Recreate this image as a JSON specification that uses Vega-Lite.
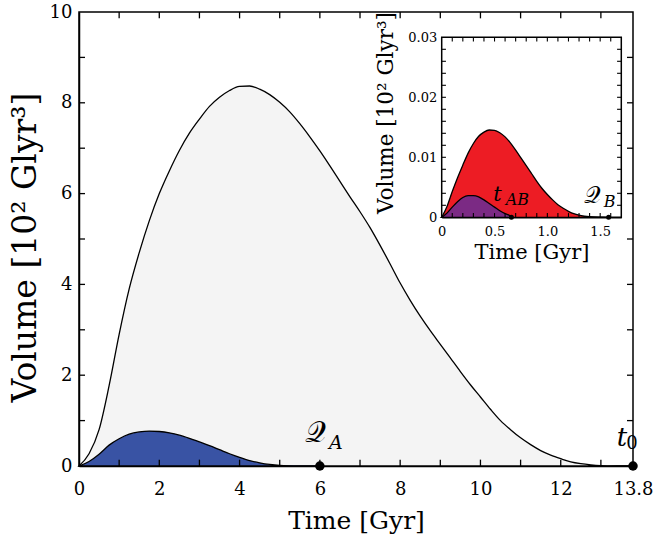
{
  "$schema": "https://vega.github.io/schema/vega-lite/v6.json",
  "width": 554,
  "height": 454,
  "autosize": {"type": "none"},
  "padding": {"left": 79, "top": 12, "right": 22, "bottom": 72},
  "background": "white",
  "config": {
    "font": "DejaVu Serif",
    "view": {"stroke": "black", "strokeWidth": 1.5},
    "axis": {"grid": false, "zindex": 2, "domainColor": "black", "domainWidth": 1.5, "tickSize": 0, "labelColor": "black", "titleColor": "black", "labelFont": "DejaVu Serif", "titleFont": "DejaVu Serif", "titleFontWeight": "normal"}
  },
  "resolve": {"scale": {"x": "independent", "y": "independent"}, "axis": {"x": "independent", "y": "independent"}},
  "datasets": {
    "grey": [
      {"t": 0, "v": 0}, {"t": 0.25, "v": 0.27}, {"t": 0.5, "v": 0.8}, {"t": 0.75, "v": 1.77}, {"t": 1.0, "v": 2.9},
      {"t": 1.25, "v": 3.9}, {"t": 1.5, "v": 4.7}, {"t": 1.75, "v": 5.4}, {"t": 2.0, "v": 6.0}, {"t": 2.25, "v": 6.5},
      {"t": 2.5, "v": 6.95}, {"t": 2.75, "v": 7.33}, {"t": 3.0, "v": 7.64}, {"t": 3.25, "v": 7.92}, {"t": 3.5, "v": 8.12},
      {"t": 3.75, "v": 8.27}, {"t": 4.0, "v": 8.36}, {"t": 4.25, "v": 8.37}, {"t": 4.5, "v": 8.3}, {"t": 4.75, "v": 8.18},
      {"t": 5.0, "v": 8.01}, {"t": 5.25, "v": 7.8}, {"t": 5.5, "v": 7.54}, {"t": 5.75, "v": 7.25}, {"t": 6.0, "v": 6.94},
      {"t": 6.25, "v": 6.61}, {"t": 6.5, "v": 6.27}, {"t": 6.75, "v": 5.93}, {"t": 7.0, "v": 5.6}, {"t": 7.25, "v": 5.25},
      {"t": 7.5, "v": 4.86}, {"t": 7.75, "v": 4.45}, {"t": 8.0, "v": 4.03}, {"t": 8.25, "v": 3.65}, {"t": 8.5, "v": 3.3},
      {"t": 8.75, "v": 2.98}, {"t": 9.0, "v": 2.68}, {"t": 9.25, "v": 2.38}, {"t": 9.5, "v": 2.08}, {"t": 9.75, "v": 1.79},
      {"t": 10.0, "v": 1.52}, {"t": 10.25, "v": 1.25}, {"t": 10.5, "v": 1.0}, {"t": 10.75, "v": 0.8}, {"t": 11.0, "v": 0.62},
      {"t": 11.25, "v": 0.47}, {"t": 11.5, "v": 0.34}, {"t": 11.75, "v": 0.24}, {"t": 12.0, "v": 0.16}, {"t": 12.25, "v": 0.09},
      {"t": 12.5, "v": 0.05}, {"t": 12.75, "v": 0.025}, {"t": 13.0, "v": 0.01}, {"t": 13.4, "v": 0.002}, {"t": 13.8, "v": 0}
    ],
    "blue": [
      {"t": 0, "v": 0}, {"t": 0.25, "v": 0.1}, {"t": 0.5, "v": 0.26}, {"t": 0.75, "v": 0.46}, {"t": 1.0, "v": 0.6},
      {"t": 1.25, "v": 0.7}, {"t": 1.5, "v": 0.75}, {"t": 1.75, "v": 0.77}, {"t": 2.0, "v": 0.76}, {"t": 2.25, "v": 0.73},
      {"t": 2.5, "v": 0.68}, {"t": 2.75, "v": 0.61}, {"t": 3.0, "v": 0.53}, {"t": 3.25, "v": 0.45}, {"t": 3.5, "v": 0.36},
      {"t": 3.75, "v": 0.27}, {"t": 4.0, "v": 0.19}, {"t": 4.25, "v": 0.12}, {"t": 4.5, "v": 0.07}, {"t": 4.75, "v": 0.035},
      {"t": 5.0, "v": 0.015}, {"t": 5.5, "v": 0.003}, {"t": 6.0, "v": 0}
    ],
    "red": [
      {"t": 0, "v": 0}, {"t": 0.05, "v": 0.0018}, {"t": 0.1, "v": 0.0043}, {"t": 0.15, "v": 0.0066}, {"t": 0.2, "v": 0.0087},
      {"t": 0.25, "v": 0.0107}, {"t": 0.3, "v": 0.0123}, {"t": 0.35, "v": 0.0135}, {"t": 0.4, "v": 0.0142}, {"t": 0.45, "v": 0.01455},
      {"t": 0.5, "v": 0.0145}, {"t": 0.55, "v": 0.0141}, {"t": 0.6, "v": 0.0134}, {"t": 0.65, "v": 0.0124}, {"t": 0.7, "v": 0.0112},
      {"t": 0.75, "v": 0.0099}, {"t": 0.8, "v": 0.0086}, {"t": 0.85, "v": 0.0073}, {"t": 0.9, "v": 0.006}, {"t": 0.95, "v": 0.0048},
      {"t": 1.0, "v": 0.0038}, {"t": 1.05, "v": 0.0029}, {"t": 1.1, "v": 0.0021}, {"t": 1.15, "v": 0.0015}, {"t": 1.2, "v": 0.001},
      {"t": 1.25, "v": 0.0006}, {"t": 1.3, "v": 0.00035}, {"t": 1.35, "v": 0.0002}, {"t": 1.4, "v": 0.0001}, {"t": 1.5, "v": 0.00002},
      {"t": 1.58, "v": 0}
    ],
    "purple": [
      {"t": 0, "v": 0}, {"t": 0.05, "v": 0.0007}, {"t": 0.1, "v": 0.0017}, {"t": 0.15, "v": 0.0026}, {"t": 0.2, "v": 0.0033},
      {"t": 0.25, "v": 0.0036}, {"t": 0.3, "v": 0.0036}, {"t": 0.35, "v": 0.0034}, {"t": 0.4, "v": 0.0029}, {"t": 0.45, "v": 0.0023},
      {"t": 0.5, "v": 0.0017}, {"t": 0.55, "v": 0.0011}, {"t": 0.6, "v": 0.0006}, {"t": 0.65, "v": 0.0002}, {"t": 0.66, "v": 0}
    ],
    "mainpts": [
      {"id": "QA", "t": 6.0, "v": 0, "main": "𝒬", "sub": "A"},
      {"id": "t0", "t": 13.8, "v": 0, "main": "t", "sub": "0"}
    ],
    "insetpts": [
      {"id": "tAB", "t": 0.66, "v": 0, "main": "t", "sub": "AB"},
      {"id": "QB", "t": 1.58, "v": 0, "main": "𝒬", "sub": "B"}
    ],
    "frame": [{"t": 0, "t2": 1.7, "v": 0, "v2": 0.03}],
    "mtx": [{"t": 1}, {"t": 2}, {"t": 3}, {"t": 4}, {"t": 5}, {"t": 6}, {"t": 7}, {"t": 8}, {"t": 9}, {"t": 10}, {"t": 11}, {"t": 12}, {"t": 13}],
    "mty": [{"v": 1}, {"v": 2}, {"v": 3}, {"v": 4}, {"v": 5}, {"v": 6}, {"v": 7}, {"v": 8}, {"v": 9}],
    "itx": [{"t": 0.1}, {"t": 0.2}, {"t": 0.3}, {"t": 0.4}, {"t": 0.5}, {"t": 0.6}, {"t": 0.7}, {"t": 0.8}, {"t": 0.9}, {"t": 1.0}, {"t": 1.1}, {"t": 1.2}, {"t": 1.3}, {"t": 1.4}, {"t": 1.5}, {"t": 1.6}],
    "ity": [{"v": 0.002}, {"v": 0.004}, {"v": 0.006}, {"v": 0.008}, {"v": 0.01}, {"v": 0.012}, {"v": 0.014}, {"v": 0.016}, {"v": 0.018}, {"v": 0.02}, {"v": 0.022}, {"v": 0.024}, {"v": 0.026}, {"v": 0.028}]
  },
  "layer": [
    {
      "data": {"name": "grey"},
      "mark": {"type": "area", "interpolate": "monotone", "fill": "#f4f4f4", "stroke": "black", "strokeWidth": 1.3},
      "encoding": {
        "x": {"field": "t", "type": "quantitative", "scale": {"domain": [0, 13.8], "nice": false, "zero": false},
          "axis": {"orient": "bottom", "values": [0,2,4,6,8,10,12,13.8],
            "labelExpr": "datum.value == 13.8 ? '13.8' : format(datum.value, 'd')",
            "tickSize": 0, "labelFontSize": 18, "labelPadding": 14, "labelFlush": false,
            "title": "Time [Gyr]", "titleFontSize": 25, "titlePadding": 10}},
        "y": {"field": "v", "type": "quantitative", "stack": null, "scale": {"domain": [0, 10], "nice": false},
          "axis": {"orient": "left", "values": [0,2,4,6,8,10],
            "labelExpr": "format(datum.value, 'd')",
            "tickSize": 0, "labelFontSize": 18, "labelPadding": 7, "labelFlush": false,
            "title": "Volume [10² Glyr³]", "titleFontSize": 33, "titlePadding": 7, "titleY": 235}}
      }
    },
    {
      "data": {"name": "blue"},
      "mark": {"type": "area", "interpolate": "monotone", "fill": "#3953a4", "stroke": "black", "strokeWidth": 1.3},
      "encoding": {
        "x": {"field": "t", "type": "quantitative", "scale": {"domain": [0, 13.8], "nice": false, "zero": false}, "axis": null},
        "y": {"field": "v", "type": "quantitative", "stack": null, "scale": {"domain": [0, 10], "nice": false}, "axis": null}
      }
    },
    {
      "data": {"name": "mtx"},
      "mark": {"type": "rule", "color": "black", "strokeWidth": 1.3},
      "encoding": {
        "x": {"field": "t", "type": "quantitative", "scale": {"domain": [0, 13.8], "nice": false, "zero": false}, "axis": null},
        "y": {"datum": 0, "type": "quantitative", "scale": {"domain": [0, 10], "nice": false}, "axis": null},
        "y2": {"datum": 0.14}
      }
    },
    {
      "data": {"name": "mtx"},
      "mark": {"type": "rule", "color": "black", "strokeWidth": 1.3},
      "encoding": {
        "x": {"field": "t", "type": "quantitative", "scale": {"domain": [0, 13.8], "nice": false, "zero": false}, "axis": null},
        "y": {"datum": 10, "type": "quantitative", "scale": {"domain": [0, 10], "nice": false}, "axis": null},
        "y2": {"datum": 9.86}
      }
    },
    {
      "data": {"name": "mty"},
      "mark": {"type": "rule", "color": "black", "strokeWidth": 1.3},
      "encoding": {
        "y": {"field": "v", "type": "quantitative", "scale": {"domain": [0, 10], "nice": false}, "axis": null},
        "x": {"datum": 0, "type": "quantitative", "scale": {"domain": [0, 13.8], "nice": false, "zero": false}, "axis": null},
        "x2": {"datum": 0.15}
      }
    },
    {
      "data": {"name": "mty"},
      "mark": {"type": "rule", "color": "black", "strokeWidth": 1.3},
      "encoding": {
        "y": {"field": "v", "type": "quantitative", "scale": {"domain": [0, 10], "nice": false}, "axis": null},
        "x": {"datum": 13.8, "type": "quantitative", "scale": {"domain": [0, 13.8], "nice": false, "zero": false}, "axis": null},
        "x2": {"datum": 13.65}
      }
    },
    {
      "data": {"name": "mainpts"},
      "mark": {"type": "point", "filled": true, "color": "black", "size": 90, "opacity": 1},
      "encoding": {
        "x": {"field": "t", "type": "quantitative", "scale": {"domain": [0, 13.8], "nice": false, "zero": false}, "axis": null},
        "y": {"field": "v", "type": "quantitative", "scale": {"domain": [0, 10], "nice": false}, "axis": null}
      }
    },
    {
      "data": {"name": "mainpts"},
      "transform": [{"filter": "datum.id == 'QA'"}],
      "mark": {"type": "text", "fontSize": 29, "dx": -4, "dy": -24, "align": "center", "baseline": "alphabetic", "font": "DejaVu Serif"},
      "encoding": {
        "x": {"field": "t", "type": "quantitative", "scale": {"domain": [0, 13.8], "nice": false, "zero": false}, "axis": null},
        "y": {"field": "v", "type": "quantitative", "scale": {"domain": [0, 10], "nice": false}, "axis": null},
        "text": {"field": "main"}
      }
    },
    {
      "data": {"name": "mainpts"},
      "transform": [{"filter": "datum.id == 'QA'"}],
      "mark": {"type": "text", "fontSize": 19, "fontStyle": "italic", "dx": 16, "dy": -17, "align": "center", "baseline": "alphabetic", "font": "DejaVu Serif"},
      "encoding": {
        "x": {"field": "t", "type": "quantitative", "scale": {"domain": [0, 13.8], "nice": false, "zero": false}, "axis": null},
        "y": {"field": "v", "type": "quantitative", "scale": {"domain": [0, 10], "nice": false}, "axis": null},
        "text": {"field": "sub"}
      }
    },
    {
      "data": {"name": "mainpts"},
      "transform": [{"filter": "datum.id == 't0'"}],
      "mark": {"type": "text", "fontSize": 26, "fontStyle": "italic", "dx": -11, "dy": -20, "align": "center", "baseline": "alphabetic", "font": "DejaVu Serif"},
      "encoding": {
        "x": {"field": "t", "type": "quantitative", "scale": {"domain": [0, 13.8], "nice": false, "zero": false}, "axis": null},
        "y": {"field": "v", "type": "quantitative", "scale": {"domain": [0, 10], "nice": false}, "axis": null},
        "text": {"field": "main"}
      }
    },
    {
      "data": {"name": "mainpts"},
      "transform": [{"filter": "datum.id == 't0'"}],
      "mark": {"type": "text", "fontSize": 18, "dx": -1, "dy": -17, "align": "center", "baseline": "alphabetic", "font": "DejaVu Serif"},
      "encoding": {
        "x": {"field": "t", "type": "quantitative", "scale": {"domain": [0, 13.8], "nice": false, "zero": false}, "axis": null},
        "y": {"field": "v", "type": "quantitative", "scale": {"domain": [0, 10], "nice": false}, "axis": null},
        "text": {"field": "sub"}
      }
    },
    {
      "data": {"name": "frame"},
      "mark": {"type": "rect", "fill": "white", "stroke": "black", "strokeWidth": 1.5},
      "encoding": {
        "x": {"field": "t", "type": "quantitative", "scale": {"domain": [0, 1.7], "nice": false, "zero": false, "range": [362.7, 542.3]},
          "axis": {"orient": "bottom", "offset": -248.7, "values": [0, 0.5, 1.0, 1.5],
            "labelExpr": "datum.value == 0 ? '0' : format(datum.value, '.1f')",
            "tickSize": 0, "labelFontSize": 13, "labelPadding": 8, "labelFlush": false,
            "title": "Time [Gyr]", "titleFontSize": 21, "titlePadding": 3}},
        "x2": {"field": "t2"},
        "y": {"field": "v", "type": "quantitative", "scale": {"domain": [0, 0.03], "nice": false, "range": [205.3, 25.3]},
          "axis": {"orient": "left", "offset": -362.7, "values": [0, 0.01, 0.02, 0.03],
            "labelExpr": "datum.value == 0 ? '0' : format(datum.value, '.2f')",
            "tickSize": 0, "labelFontSize": 13, "labelPadding": 5, "labelFlush": false,
            "title": "Volume [10² Glyr³]", "titleFontSize": 21.5, "titlePadding": 10, "titleY": 100.5}},
        "y2": {"field": "v2"}
      }
    },
    {
      "data": {"name": "red"},
      "mark": {"type": "area", "interpolate": "monotone", "fill": "#ed1c24", "stroke": "black", "strokeWidth": 1.3},
      "encoding": {
        "x": {"field": "t", "type": "quantitative", "scale": {"domain": [0, 1.7], "nice": false, "zero": false, "range": [362.7, 542.3]}, "axis": null},
        "y": {"field": "v", "type": "quantitative", "stack": null, "scale": {"domain": [0, 0.03], "nice": false, "range": [205.3, 25.3]}, "axis": null}
      }
    },
    {
      "data": {"name": "purple"},
      "mark": {"type": "area", "interpolate": "monotone", "fill": "#7b2a84", "stroke": "black", "strokeWidth": 1.3},
      "encoding": {
        "x": {"field": "t", "type": "quantitative", "scale": {"domain": [0, 1.7], "nice": false, "zero": false, "range": [362.7, 542.3]}, "axis": null},
        "y": {"field": "v", "type": "quantitative", "stack": null, "scale": {"domain": [0, 0.03], "nice": false, "range": [205.3, 25.3]}, "axis": null}
      }
    },
    {
      "data": {"name": "itx"},
      "mark": {"type": "rule", "color": "black", "strokeWidth": 1.1},
      "encoding": {
        "x": {"field": "t", "type": "quantitative", "scale": {"domain": [0, 1.7], "nice": false, "zero": false, "range": [362.7, 542.3]}, "axis": null},
        "y": {"datum": 0, "type": "quantitative", "scale": {"domain": [0, 0.03], "nice": false, "range": [205.3, 25.3]}, "axis": null},
        "y2": {"datum": 0.0007}
      }
    },
    {
      "data": {"name": "itx"},
      "mark": {"type": "rule", "color": "black", "strokeWidth": 1.1},
      "encoding": {
        "x": {"field": "t", "type": "quantitative", "scale": {"domain": [0, 1.7], "nice": false, "zero": false, "range": [362.7, 542.3]}, "axis": null},
        "y": {"datum": 0.03, "type": "quantitative", "scale": {"domain": [0, 0.03], "nice": false, "range": [205.3, 25.3]}, "axis": null},
        "y2": {"datum": 0.0293}
      }
    },
    {
      "data": {"name": "ity"},
      "mark": {"type": "rule", "color": "black", "strokeWidth": 1.1},
      "encoding": {
        "y": {"field": "v", "type": "quantitative", "scale": {"domain": [0, 0.03], "nice": false, "range": [205.3, 25.3]}, "axis": null},
        "x": {"datum": 0, "type": "quantitative", "scale": {"domain": [0, 1.7], "nice": false, "zero": false, "range": [362.7, 542.3]}, "axis": null},
        "x2": {"datum": 0.04}
      }
    },
    {
      "data": {"name": "ity"},
      "mark": {"type": "rule", "color": "black", "strokeWidth": 1.1},
      "encoding": {
        "y": {"field": "v", "type": "quantitative", "scale": {"domain": [0, 0.03], "nice": false, "range": [205.3, 25.3]}, "axis": null},
        "x": {"datum": 1.7, "type": "quantitative", "scale": {"domain": [0, 1.7], "nice": false, "zero": false, "range": [362.7, 542.3]}, "axis": null},
        "x2": {"datum": 1.66}
      }
    },
    {
      "data": {"name": "insetpts"},
      "mark": {"type": "point", "filled": true, "color": "black", "size": 25, "opacity": 1},
      "encoding": {
        "x": {"field": "t", "type": "quantitative", "scale": {"domain": [0, 1.7], "nice": false, "zero": false, "range": [362.7, 542.3]}, "axis": null},
        "y": {"field": "v", "type": "quantitative", "scale": {"domain": [0, 0.03], "nice": false, "range": [205.3, 25.3]}, "axis": null}
      }
    },
    {
      "data": {"name": "insetpts"},
      "transform": [{"filter": "datum.id == 'tAB'"}],
      "mark": {"type": "text", "fontSize": 21, "fontStyle": "italic", "dx": -14, "dy": -16, "align": "center", "baseline": "alphabetic", "font": "DejaVu Serif"},
      "encoding": {
        "x": {"field": "t", "type": "quantitative", "scale": {"domain": [0, 1.7], "nice": false, "zero": false, "range": [362.7, 542.3]}, "axis": null},
        "y": {"field": "v", "type": "quantitative", "scale": {"domain": [0, 0.03], "nice": false, "range": [205.3, 25.3]}, "axis": null},
        "text": {"field": "main"}
      }
    },
    {
      "data": {"name": "insetpts"},
      "transform": [{"filter": "datum.id == 'tAB'"}],
      "mark": {"type": "text", "fontSize": 16, "fontStyle": "italic", "dx": 6, "dy": -12, "align": "center", "baseline": "alphabetic", "font": "DejaVu Serif"},
      "encoding": {
        "x": {"field": "t", "type": "quantitative", "scale": {"domain": [0, 1.7], "nice": false, "zero": false, "range": [362.7, 542.3]}, "axis": null},
        "y": {"field": "v", "type": "quantitative", "scale": {"domain": [0, 0.03], "nice": false, "range": [205.3, 25.3]}, "axis": null},
        "text": {"field": "sub"}
      }
    },
    {
      "data": {"name": "insetpts"},
      "transform": [{"filter": "datum.id == 'QB'"}],
      "mark": {"type": "text", "fontSize": 23, "dx": -16, "dy": -14, "align": "center", "baseline": "alphabetic", "font": "DejaVu Serif"},
      "encoding": {
        "x": {"field": "t", "type": "quantitative", "scale": {"domain": [0, 1.7], "nice": false, "zero": false, "range": [362.7, 542.3]}, "axis": null},
        "y": {"field": "v", "type": "quantitative", "scale": {"domain": [0, 0.03], "nice": false, "range": [205.3, 25.3]}, "axis": null},
        "text": {"field": "main"}
      }
    },
    {
      "data": {"name": "insetpts"},
      "transform": [{"filter": "datum.id == 'QB'"}],
      "mark": {"type": "text", "fontSize": 16, "fontStyle": "italic", "dx": 1, "dy": -10, "align": "center", "baseline": "alphabetic", "font": "DejaVu Serif"},
      "encoding": {
        "x": {"field": "t", "type": "quantitative", "scale": {"domain": [0, 1.7], "nice": false, "zero": false, "range": [362.7, 542.3]}, "axis": null},
        "y": {"field": "v", "type": "quantitative", "scale": {"domain": [0, 0.03], "nice": false, "range": [205.3, 25.3]}, "axis": null},
        "text": {"field": "sub"}
      }
    }
  ]
}
